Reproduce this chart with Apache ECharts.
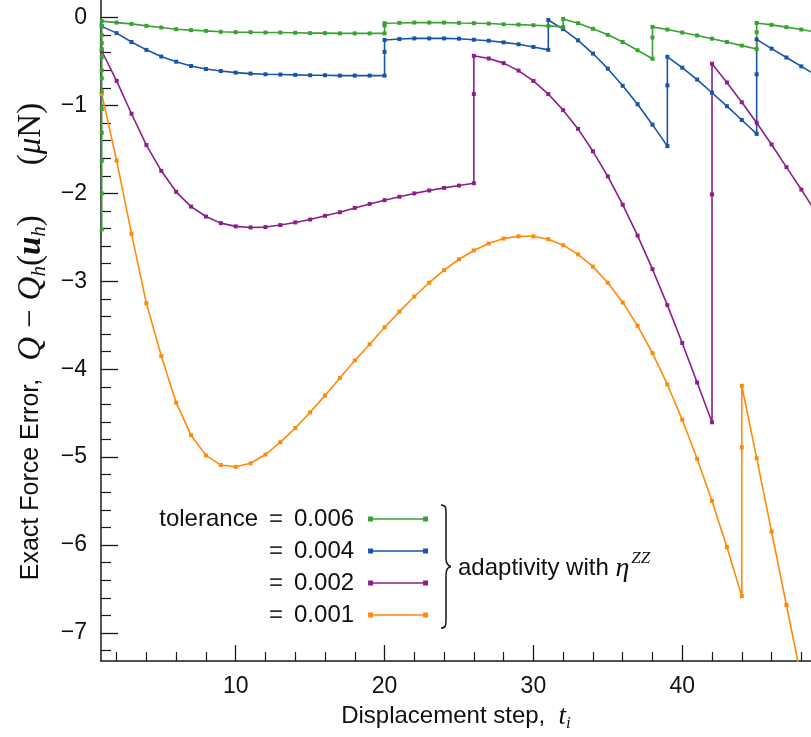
<!DOCTYPE html>
<html><head><meta charset="utf-8">
<script src="https://cdn.jsdelivr.net/npm/echarts@6/dist/echarts.min.js"></script>
<style>html,body{margin:0;padding:0;background:#fff}#c{width:811px;height:737px}</style>
</head><body><div id="c"></div>
<script>
// ---- data ----
const seriesNames = ['tolerance = 0.006', '= 0.004', '= 0.002', '= 0.001'];
const seriesColors = ['#3aa232', '#1655a8', '#8a1f8c', '#ff8a0a'];

const tol006 = [[1,-2.41],[1,-2.0],[1,-1.63],[1,-1.31],[1,-1.04],[1,-0.84],[1,-0.69],[1,-0.6],[1,-0.45],[1,-0.36],[1,-0.29],[1,-0.2],[1,-0.1],[1,-0.04],
 [2,-0.057],[3,-0.072],[4,-0.094],[5,-0.113],[6,-0.132],[7,-0.143],[8,-0.151],[9,-0.162],[10,-0.166],[11,-0.166],[12,-0.17],[13,-0.17],[14,-0.173],[15,-0.177],[16,-0.177],[17,-0.18],[18,-0.18],[19,-0.18],[20,-0.18],
 [20,-0.09],[20,-0.064],[21,-0.061],[22,-0.057],[23,-0.057],[24,-0.057],[25,-0.061],[26,-0.064],[27,-0.068],[28,-0.076],[29,-0.08],[30,-0.087],[31,-0.094],[32,-0.106],
 [32,-0.016],[33,-0.064],[34,-0.128],[35,-0.196],[36,-0.278],[37,-0.372],[38,-0.469],[38,-0.226],[38,-0.106],[39,-0.136],[40,-0.17],[41,-0.203],[42,-0.24],[43,-0.278],[44,-0.319],[45,-0.357],
 [45,-0.166],[45,-0.061],[46,-0.083],[47,-0.109],[48,-0.136],[49,-0.165]];

const tol004 = [[1,-0.10],[2,-0.177],[3,-0.278],[4,-0.367],[5,-0.443],[6,-0.502],[7,-0.551],[8,-0.585],[9,-0.608],[10,-0.626],[11,-0.637],[12,-0.645],[13,-0.648],[14,-0.652],[15,-0.656],[16,-0.656],[17,-0.66],[18,-0.66],[19,-0.66],[20,-0.66],
 [20,-0.39],[20,-0.255],[21,-0.244],[22,-0.237],[23,-0.237],[24,-0.237],[25,-0.24],[26,-0.252],[27,-0.263],[28,-0.282],[29,-0.304],[30,-0.334],[31,-0.367],
 [31,-0.027],[32,-0.132],[33,-0.259],[34,-0.409],[35,-0.581],[36,-0.776],[37,-0.986],[38,-1.218],[39,-1.462],
 [39,-0.772],[39,-0.446],[40,-0.57],[41,-0.705],[42,-0.855],[43,-1.008],[44,-1.165],[45,-1.323],
 [45,-0.645],[45,-0.248],[46,-0.353],[47,-0.454],[48,-0.555],[49,-0.656]];

const tol002 = [[1,-0.38],[2,-0.72],[3,-1.094],[4,-1.45],[5,-1.743],[6,-1.982],[7,-2.15],[8,-2.263],[9,-2.338],[10,-2.375],[11,-2.387],[12,-2.383],[13,-2.36],[14,-2.33],[15,-2.297],[16,-2.255],[17,-2.214],[18,-2.165],[19,-2.12],[20,-2.077],[21,-2.038],[22,-2.0],[23,-1.967],[24,-1.937],[25,-1.911],[26,-1.884],
 [26,-0.87],[26,-0.435],[27,-0.465],[28,-0.518],[29,-0.603],[30,-0.72],[31,-0.87],[32,-1.053],[33,-1.266],[34,-1.521],[35,-1.806],[36,-2.128],[37,-2.48],[38,-2.862],[39,-3.271],[40,-3.701],[41,-4.151],[42,-4.604],
 [42,-2.012],[42,-0.525],[43,-0.738],[44,-0.963],[45,-1.196],[46,-1.443],[47,-1.701],[48,-1.956],[49,-2.22]];

const tol001 = [[1,-0.87],[2,-1.626],[3,-2.46],[4,-3.25],[5,-3.85],[6,-4.38],[7,-4.75],[8,-4.98],[9,-5.09],[10,-5.11],[11,-5.07],[12,-4.97],[13,-4.83],[14,-4.67],[15,-4.49],[16,-4.3],[17,-4.1],[18,-3.9],[19,-3.716],[20,-3.525],
 [21,-3.345],[22,-3.173],[23,-3.016],[24,-2.873],[25,-2.749],[26,-2.649],[27,-2.57],[28,-2.514],[29,-2.488],[30,-2.488],[31,-2.521],[32,-2.589],[33,-2.694],[34,-2.833],[35,-3.016],[36,-3.24],[37,-3.507],[38,-3.817],[39,-4.173],[40,-4.574],
 [41,-5.019],[42,-5.499],[43,-6.023],[44,-6.581],[44,-4.888],[44,-4.188],[45,-5.012],[46,-5.847],[47,-6.682],[48,-7.52]];

const xTickLabels = [10, 20, 30, 40];
const xMinorTicks = [2,4,6,8,12,14,16,18,22,24,26,28,32,34,36,38,42,44,46,48];
const yTickLabels = [0, -1, -2, -3, -4, -5, -6, -7];
const yMinorTicks = [-0.2,-0.4,-0.6,-0.8,-1.2,-1.4,-1.6,-1.8,-2.2,-2.4,-2.6,-2.8,-3.2,-3.4,-3.6,-3.8,-4.2,-4.4,-4.6,-4.8,-5.2,-5.4,-5.6,-5.8,-6.2,-6.4,-6.6,-6.8,-7.2];

// ---- chart ----
const SANS = 'Liberation Sans';
const SERIF = 'Liberation Serif';
const X_MIN = 0.95, X_MAX = 48.65, Y_MIN = -7.32, Y_MAX = 0.2;
const axisColor = '#1a1a1a';
const INK = '#111';

const chart = echarts.init(document.getElementById('c'), null, {renderer: 'canvas'});

const dataSets = [tol006, tol004, tol002, tol001];
const series = [];
for (let i = dataSets.length - 1; i >= 0; i--) {
  series.push({
    name: seriesNames[i], type: 'line', data: dataSets[i],
    xAxisIndex: 0, yAxisIndex: 0,
    symbol: 'rect', symbolSize: 4, showSymbol: true, clip: true,
    color: seriesColors[i],
    lineStyle: {width: 1.6, color: seriesColors[i]},
    itemStyle: {color: seriesColors[i], borderWidth: 0},
    emphasis: {disabled: true}
  });
}

// legend label: "tolerance" block (fixed width, right aligned), "=" sign, value
function legendLabel(name) {
  const parts = name.split('=');
  const pre = parts[0].trim() || '\u00a0';
  return '{p|' + pre + '}{e|=}{t|' + parts[1].trim() + '}';
}

const braceStyle = {fill: 'none', stroke: INK, lineWidth: 1.5};
const option = {
  animation: false,
  backgroundColor: '#fff',
  grid: {left: 101, right: 0, top: 0, bottom: 68, containLabel: false},
  xAxis: [{
    type: 'value', min: X_MIN, max: X_MAX, position: 'bottom',
    axisLine: {show: true, onZero: false, lineStyle: {color: axisColor, width: 1.5}},
    axisTick: {show: true, inside: true, length: 16, customValues: xTickLabels, lineStyle: {color: axisColor, width: 1.3}},
    axisLabel: {show: true, customValues: xTickLabels, fontFamily: SANS, fontSize: 23, color: INK, margin: 14},
    splitLine: {show: false},
    name: '{a|Displacement step,}  {m|t}{s|i}',
    nameLocation: 'middle', nameGap: 38,
    nameTextStyle: {color: INK, fontFamily: SANS, fontSize: 24,
      rich: {a: {fontFamily: SANS, fontSize: 24, color: INK},
             m: {fontFamily: SERIF, fontStyle: 'italic', fontSize: 27, color: INK},
             s: {fontFamily: SERIF, fontStyle: 'italic', fontSize: 17, color: INK, padding: [14, 0, 0, 0]}}}
  }, {
    type: 'value', min: X_MIN, max: X_MAX, position: 'bottom',
    axisLine: {show: false, onZero: false},
    axisTick: {show: true, inside: true, length: 9, customValues: xMinorTicks, lineStyle: {color: axisColor, width: 1.2}},
    axisLabel: {show: false}, splitLine: {show: false}
  }],
  yAxis: [{
    type: 'value', min: Y_MIN, max: Y_MAX, position: 'left',
    axisLine: {show: true, onZero: false, lineStyle: {color: axisColor, width: 1.5}},
    axisTick: {show: true, inside: true, length: 17, customValues: yTickLabels, lineStyle: {color: axisColor, width: 1.3}},
    axisLabel: {show: true, customValues: yTickLabels, fontFamily: SANS, fontSize: 23, color: INK, margin: 14,
      formatter: v => (v < 0 ? '\u2212' + Math.abs(v) : String(v))},
    splitLine: {show: false},
    name: '{a|Exact Force Error,}{g1|\u00a0}{m|Q}{op|\u2212}{m|Q}{s|h}{r|(}{b|u}{s|h}{r|)}{g2|\u00a0}{r|(}{m|\u03bc}{r|N)}',
    nameLocation: 'middle', nameGap: 47, nameRotate: 90,
    nameTextStyle: {color: INK, fontFamily: SANS, fontSize: 25, padding: [0, 22, 0, 0],
      rich: {a: {fontFamily: SANS, fontSize: 25, color: INK},
             g1: {fontFamily: SANS, fontSize: 25, width: 18},
             g2: {fontFamily: SANS, fontSize: 25, width: 50},
             m: {fontFamily: SERIF, fontStyle: 'italic', fontSize: 33, color: INK},
             op: {fontFamily: SERIF, fontSize: 33, color: INK, padding: [0, 9, 0, 9]},
             r: {fontFamily: SERIF, fontSize: 33, color: INK},
             b: {fontFamily: SERIF, fontStyle: 'italic', fontWeight: 'bold', fontSize: 33, color: INK},
             s: {fontFamily: SERIF, fontStyle: 'italic', fontSize: 21, color: INK, padding: [16, 0, 0, 0]}}}
  }, {
    type: 'value', min: Y_MIN, max: Y_MAX, position: 'left',
    axisLine: {show: false, onZero: false},
    axisTick: {show: true, inside: true, length: 10, customValues: yMinorTicks, lineStyle: {color: axisColor, width: 1.2}},
    axisLabel: {show: false}, splitLine: {show: false}
  }],
  legend: {
    show: true, orient: 'vertical', align: 'right',
    left: 153, top: 501, itemGap: 6,
    itemWidth: 60, itemHeight: 5,
    icon: 'path://M0,0H5V5H0Z M5,1.8H55V3.2H5Z M55,0H60V5H55Z',
    itemStyle: {borderWidth: 0},
    data: seriesNames.slice(),
    selectedMode: false,
    formatter: legendLabel,
    textStyle: {fontFamily: SANS, fontSize: 24, color: INK, lineHeight: 26,
      rich: {p: {fontFamily: SANS, fontSize: 24, color: INK, width: 100, align: 'right', lineHeight: 26},
             e: {fontFamily: SANS, fontSize: 24, color: '#333', padding: [0, 11, 0, 11], lineHeight: 26},
             t: {fontFamily: SANS, fontSize: 24, color: INK, padding: [0, 9, 0, 0], lineHeight: 26}}}
  },
  graphic: [
    {type: 'bezierCurve', silent: true, shape: {x1: 441, y1: 505, cpx1: 446, cpy1: 505, cpx2: 446, cpy2: 508, x2: 446, y2: 513}, style: braceStyle},
    {type: 'line', silent: true, shape: {x1: 446, y1: 513, x2: 446, y2: 558}, style: braceStyle},
    {type: 'bezierCurve', silent: true, shape: {x1: 446, y1: 558, cpx1: 446, cpy1: 564, cpx2: 448, cpy2: 566, x2: 451, y2: 566.5}, style: braceStyle},
    {type: 'bezierCurve', silent: true, shape: {x1: 451, y1: 566.5, cpx1: 448, cpy1: 567, cpx2: 446, cpy2: 569, x2: 446, y2: 575}, style: braceStyle},
    {type: 'line', silent: true, shape: {x1: 446, y1: 575, x2: 446, y2: 620}, style: braceStyle},
    {type: 'bezierCurve', silent: true, shape: {x1: 446, y1: 620, cpx1: 446, cpy1: 625, cpx2: 446, cpy2: 628, x2: 441, y2: 628}, style: braceStyle},
    {
    type: 'text', silent: true, left: 458, top: 550,
    style: {
      text: '{a|adaptivity with }{m|\u03b7}{s|ZZ}',
      rich: {a: {fontFamily: SANS, fontSize: 24, fill: INK, lineHeight: 30},
             m: {fontFamily: SERIF, fontStyle: 'italic', fontSize: 28, fill: INK, lineHeight: 30},
             s: {fontFamily: SERIF, fontStyle: 'italic', fontSize: 17, fill: INK, padding: [0, 0, 20, 2]}}
    }
  }],
  series: series
};
chart.setOption(option);
</script>
</body></html>
